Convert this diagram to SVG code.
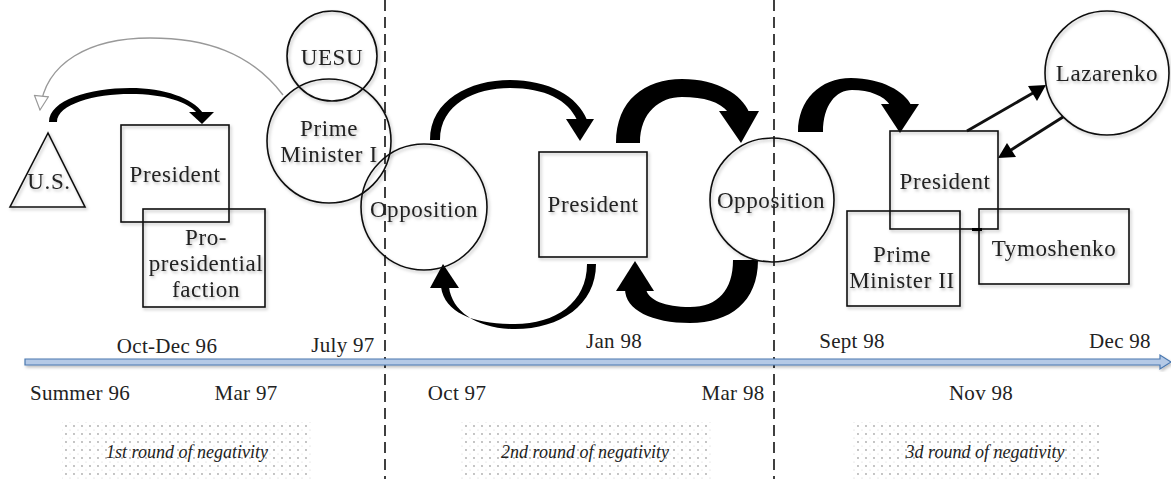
<svg xmlns="http://www.w3.org/2000/svg" width="1171" height="479" viewBox="0 0 1171 479" font-family="'Liberation Serif', 'DejaVu Serif', serif">
<defs>
<style>
.n{fill:none;stroke:#111;stroke-width:1.6}
.t{font-family:'Liberation Serif','DejaVu Serif',serif;font-size:23px;fill:#222;text-anchor:middle;letter-spacing:0.6px}
.d{font-family:'Liberation Serif','DejaVu Serif',serif;font-size:21px;fill:#222;text-anchor:middle;letter-spacing:0.3px}
.i{font-family:'Liberation Serif','DejaVu Serif',serif;font-size:18px;font-style:italic;fill:#222;text-anchor:middle}
.dash{stroke:#111;stroke-width:1.6;stroke-dasharray:11 6}
.blk{fill:#000}
</style>
<filter id="sh" x="-20%" y="-20%" width="140%" height="140%">
<feDropShadow dx="1.5" dy="2" stdDeviation="1.8" flood-color="#000" flood-opacity="0.25"/>
</filter>
<pattern id="dots" width="8" height="8" patternUnits="userSpaceOnUse">
<circle cx="2" cy="2" r="0.9" fill="#aaa"/>
<circle cx="6" cy="6" r="0.6" fill="#ccc"/>
</pattern>
<marker id="hollow" viewBox="0 0 16 16" refX="15" refY="8" markerWidth="16" markerHeight="16" orient="auto" markerUnits="userSpaceOnUse">
<path d="M1,1 L15,8 L1,15 Z" fill="#fff" stroke="#999" stroke-width="1.2"/>
</marker>
</defs>
<rect width="1171" height="479" fill="#fff"/>

<g id="bands">
<rect x="62" y="422" width="251" height="57" fill="url(#dots)"/>
<rect x="460" y="422" width="251" height="57" fill="url(#dots)"/>
<rect x="853" y="422" width="248" height="57" fill="url(#dots)"/>
<text class="i" x="187" y="458">1st round of negativity</text>
<text class="i" x="585" y="458">2nd round of negativity</text>
<text class="i" x="985" y="458">3d round of negativity</text>
</g>

<g id="dividers">
<line class="dash" x1="385" y1="0" x2="385" y2="479"/>
<line class="dash" x1="774" y1="0" x2="774" y2="479"/>
</g>

<g id="timeline">
<path d="M25,359 L1160,359 L1160,355 L1171,362 L1160,369 L1160,365 L25,365 Z" fill="#b4c9e6" stroke="#4a78b0" stroke-width="1.2" filter="url(#sh)"/>
<text class="d" x="167" y="353">Oct-Dec 96</text>
<text class="d" x="343" y="352">July 97</text>
<text class="d" x="614" y="348">Jan 98</text>
<text class="d" x="852" y="348">Sept 98</text>
<text class="d" x="1120" y="348">Dec 98</text>
<text class="d" x="80" y="400">Summer 96</text>
<text class="d" x="246" y="400">Mar 97</text>
<text class="d" x="457" y="400">Oct 97</text>
<text class="d" x="733" y="400">Mar 98</text>
<text class="d" x="981" y="400">Nov 98</text>
</g>

<g id="connectors">
<path d="M283,95 C250,52 205,38 150,38 C90,38 45,62 40,110" fill="none" stroke="#999" stroke-width="1.4" marker-end="url(#hollow)"/>
<path class="blk" d="M49,122 C49,100 90,88 130,88 C165,88 192,98 203,113 L197,113 C188,102 165,94 130,94 C95,94 57,104 57,122 Z"/>
<path class="blk" d="M189,112 L214,112 L202,124 Z"/>

<path class="blk" d="M430,140 C430,100 470,80 510,80 C548,80 578,96 587,120 L577,120 C568,100 545,88 510,88 C475,88 440,104 440,140 Z"/>
<path class="blk" d="M566,119 L594,119 L580,141 Z"/>

<path class="blk" d="M616,143 C616,100 645,79 682,79 C718,79 742,95 749,112 L728,112 C720,102 704,97 682,97 C660,97 640,112 640,143 Z"/>
<path class="blk" d="M719,111 L759,111 L741,143 Z"/>

<path class="blk" d="M596,264 C596,305 560,329 515,329 C478,329 452,312 449,287 L441,287 C445,314 475,324 515,324 C555,324 587,303 587,264 Z"/>
<path class="blk" d="M430,288 L459,288 L443,264 Z"/>

<path class="blk" d="M758,260 C758,302 730,323 690,323 C652,323 625,310 625,289 L646,289 C648,300 665,307 690,307 C718,307 733,290 733,260 Z"/>
<path class="blk" d="M616,291 L654,291 L635,261 Z"/>

<path class="blk" d="M798,132 C798,100 820,78 851,78 C882,78 905,92 911,105 L890,105 C884,96 870,90 852,90 C836,90 823,105 823,132 Z"/>
<path class="blk" d="M881,104 L919,104 L900,133 Z"/>

<line x1="967" y1="131" x2="1033" y2="93" stroke="#111" stroke-width="3"/>
<path class="blk" d="M1046,85 L1028,86 L1037,101 Z"/>
<line x1="1063" y1="117" x2="1011" y2="150" stroke="#111" stroke-width="3"/>
<path class="blk" d="M998,158 L1007,143 L1016,157 Z"/>
</g>

<g id="us" filter="url(#sh)">
<path class="n" d="M48,133 L10,207 L85,207 Z"/>
<text class="t" x="49" y="189">U.S.</text>
</g>
<g id="president1" filter="url(#sh)">
<rect class="n" x="121" y="125" width="108" height="97"/>
<text class="t" x="175" y="182">President</text>
</g>
<g id="propres" filter="url(#sh)">
<rect class="n" x="143" y="209" width="122" height="98"/>
<text class="t" x="206" y="245">Pro-</text>
<text class="t" x="206" y="271">presidential</text>
<text class="t" x="206" y="297">faction</text>
</g>
<g id="uesu" filter="url(#sh)">
<circle class="n" cx="332" cy="56" r="45"/>
<text class="t" x="332" y="65">UESU</text>
</g>
<g id="pm1" filter="url(#sh)">
<circle class="n" cx="329" cy="141" r="62"/>
<text class="t" x="329" y="136">Prime</text>
<text class="t" x="329" y="162">Minister I</text>
</g>
<g id="opp1" filter="url(#sh)">
<circle class="n" cx="424" cy="207" r="63"/>
<text class="t" x="424" y="217">Opposition</text>
</g>
<g id="president2" filter="url(#sh)">
<rect class="n" x="539" y="152" width="108" height="105"/>
<text class="t" x="593" y="212">President</text>
</g>
<g id="opp2" filter="url(#sh)">
<circle class="n" cx="772" cy="200" r="62"/>
<text class="t" x="771" y="208">Opposition</text>
</g>
<g id="president3" filter="url(#sh)">
<rect class="n" x="890" y="131" width="108" height="98"/>
<text class="t" x="945" y="189">President</text>
</g>
<g id="pm2" filter="url(#sh)">
<rect class="n" x="847" y="211" width="113" height="95"/>
<text class="t" x="902" y="262">Prime</text>
<text class="t" x="902" y="288">Minister II</text>
</g>
<g id="tymoshenko" filter="url(#sh)">
<rect class="n" x="979" y="209" width="150" height="75"/>
<text class="t" x="1054" y="256">Tymoshenko</text>
<line x1="972" y1="229.5" x2="982" y2="229.5" stroke="#000" stroke-width="3"/>
</g>
<g id="lazarenko" filter="url(#sh)">
<circle class="n" cx="1107" cy="73" r="62"/>
<text class="t" x="1107" y="81">Lazarenko</text>
</g>
</svg>
